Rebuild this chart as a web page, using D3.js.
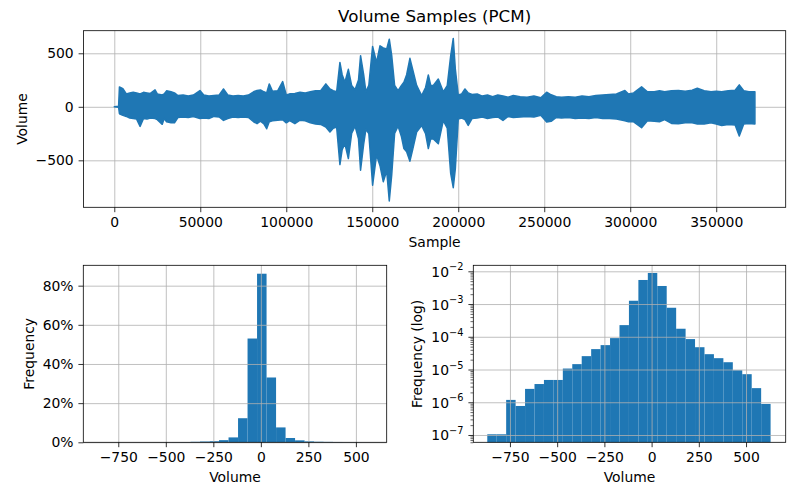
<!DOCTYPE html>
<html>
<head>
<meta charset="utf-8">
<script src="https://cdn.jsdelivr.net/npm/d3@7"></script>
<style>
  body { margin: 0; background: #fff; }
  svg text { font-family: "DejaVu Sans", sans-serif; fill: #000; }
</style>
</head>
<body>
<div id="chart"></div>
<script>
// waveform envelope: sample index (thousands), max and min volume per chunk
const sampleK = [0, 2.5, 3.0, 5, 7, 9, 11, 13, 15, 17, 19, 21, 23.7, 25, 27.9, 29, 30.4, 33, 35, 37, 40, 43, 46, 49.8, 52, 55, 58, 61,
  63.5, 66, 69, 72, 75, 78, 81, 83, 85, 87, 88.6, 90.1, 92, 95, 97.9, 100, 102, 105, 108, 111, 114, 117, 120, 123,
  125.4, 127.3, 129.3, 131.2, 132.5, 134.1, 136.1, 138, 140, 142, 143.2, 145, 146.3, 148, 150.2, 152.5, 154.5, 156.4, 158.4, 159.9, 161.3,
  163, 165, 167, 168.4, 170, 171.9, 173.5, 175.8, 178.7, 181, 182.6, 184, 185.5, 188.4, 191.3, 193.6, 195.6, 197.1, 198.3,
  200, 202, 203.9, 205.8, 208, 211, 214, 217, 220, 223, 226, 229, 232, 236, 240, 244, 248, 251.4,
  254, 257, 260, 264, 268, 272, 276, 280, 284, 288, 292, 296.9, 299, 302, 306.6, 310, 314, 317,
  320, 324, 328, 332, 336, 339, 343, 347, 350, 353.2, 357, 361, 363.4, 366, 369, 372.5];
const envMax = [0, 4, 186, 170, 120, 130, 135, 130, 120, 135, 130, 125, 158, 120, 110, 120, 149, 140, 130, 105, 110, 100, 110, 152, 110, 100, 105, 110,
  167, 110, 100, 105, 100, 110, 140, 152, 158, 140, 130, 214, 145, 150, 236, 110, 121, 125, 135, 130, 140, 150, 150, 214,
  167, 150, 140, 415, 300, 230, 350, 200, 160, 250, 477, 300, 140, 200, 564, 415, 570, 550, 540, 632, 480,
  200, 150, 200, 230, 300, 453, 350, 200, 105, 180, 298, 200, 200, 260, 140, 198, 477, 639, 353,
  110, 120, 167, 130, 115, 120, 100, 110, 95, 110, 100, 90, 105, 95, 90, 100, 85, 136,
  112, 95, 90, 95, 90, 100, 95, 105, 110, 115, 120, 152, 120, 130, 186, 140, 140, 150,
  140, 150, 152, 145, 155, 174, 150, 140, 145, 140, 150, 155, 205, 150, 140, 140];
const envMin = [0, -4, -65, -80, -90, -105, -110, -115, -183, -110, -115, -105, -110, -120, -164, -110, -140, -150, -149, -100, -95, -100, -90, -110, -105, -110, -90, -95,
  -127, -110, -95, -100, -95, -100, -140, -158, -135, -160, -205, -140, -130, -125, -120, -150, -130, -158, -125, -130, -150, -160, -165, -190,
  -236, -200, -190, -540, -400, -345, -484, -250, -180, -300, -592, -350, -210, -250, -732, -450, -550, -700, -600, -880, -639,
  -250, -180, -280, -390, -420, -508, -400, -236, -175, -250, -390, -300, -300, -345, -130, -200, -623, -756, -580,
  -115, -105, -120, -174, -110, -105, -95, -110, -100, -95, -127, -90, -100, -95, -90, -95, -80, -143,
  -136, -100, -105, -100, -110, -105, -110, -100, -110, -110, -115, -130, -140, -140, -195, -130, -135, -140,
  -120, -155, -158, -150, -150, -160, -160, -150, -160, -174, -165, -170, -273, -160, -155, -160];

// histogram bins (30 bins of width 50)
const binEdges = [-870, -820, -770, -720, -670, -620, -570, -520, -470, -420, -370, -320, -270, -220, -170, -120, -70, -20,
  30, 80, 130, 180, 230, 280, 330, 380, 430, 480, 530, 580, 630];
const freqPct = [0.001, 0.001, 0.011, 0.007, 0.024, 0.034, 0.046, 0.046, 0.10, 0.14, 0.25, 0.40, 0.53, 1.1, 2.5, 12.3,
  53.0, 86.1, 33.1, 7.6, 2.2, 1.0, 0.46, 0.28, 0.21, 0.16, 0.09, 0.07, 0.026, 0.009];
const freqLog = [1.05e-7, 1.05e-7, 1.18e-6, 7.7e-7, 2.56e-6, 3.6e-6, 4.8e-6, 4.8e-6, 1.07e-5, 1.46e-5, 2.56e-5, 4.2e-5, 5.56e-5, 9.1e-5,
  2.27e-4, 1.26e-3, 5.43e-3, 8.9e-3, 3.56e-3, 7.7e-4, 1.76e-4, 8.5e-5, 4.8e-5, 2.94e-5, 2.22e-5, 1.67e-5, 9.5e-6, 7.2e-6, 2.7e-6, 8.9e-7];

// tick values
const sampleTicks = [0, 50000, 100000, 150000, 200000, 250000, 300000, 350000];
const volTicksTop = [-500, 0, 500];
const volTicks = [-750, -500, -250, 0, 250, 500];
const pctTicks = [0, 20, 40, 60, 80];
const logExp = [-7, -6, -5, -4, -3, -2];

const blue = "#1f77b4", gridCol = "#b0b0b0", fs = 13.9;

const svg = d3.select("#chart").append("svg").attr("width", 800).attr("height", 500);

// panel boxes
const pTop = { left: 83.5, right: 785.7, top: 30.7, bottom: 207.3 };
const pL = { left: 83.3, right: 386.7, top: 265.3, bottom: 442.3 };
const pR = { left: 473.3, right: 785.7, top: 265.3, bottom: 442.3 };

function styleAxis(g, w) {
  g.attr("font-family", null).attr("font-size", null);
  g.select(".domain").remove();
  g.selectAll(".tick line").attr("stroke", "#000").attr("stroke-width", w || 0.8);
  g.selectAll(".tick text").attr("font-size", fs);
}
function grid(p, x, y, xt, yt) {
  const g = svg.append("g");
  g.append("g").attr("transform", `translate(0,${p.bottom})`)
    .call(d3.axisBottom(x).tickValues(xt).tickSize(-(p.bottom - p.top)).tickFormat(""))
    .call(s => { s.select(".domain").remove(); s.selectAll("line").attr("stroke", gridCol).attr("stroke-width", 0.8); });
  g.append("g").attr("transform", `translate(${p.left},0)`)
    .call(d3.axisLeft(y).tickValues(yt).tickSize(-(p.right - p.left)).tickFormat(""))
    .call(s => { s.select(".domain").remove(); s.selectAll("line").attr("stroke", gridCol).attr("stroke-width", 0.8); });
}
function frame(p) {
  svg.append("rect").attr("x", p.left).attr("y", p.top).attr("width", p.right - p.left).attr("height", p.bottom - p.top)
    .attr("fill", "none").attr("stroke", "#000").attr("stroke-width", 0.8);
}
function label(text, x, y, rot, size) {
  svg.append("text").attr("transform", `translate(${x},${y})` + (rot ? " rotate(-90)" : ""))
    .attr("text-anchor", "middle").attr("font-size", size || fs).text(text);
}

// ---------- top: waveform ----------
const xS = d3.scaleLinear().domain([-17900, 390400]).range([pTop.left, pTop.right]);
const yV = d3.scaleLinear().domain([-939, 711]).range([pTop.bottom, pTop.top]);

const area = d3.area()
  .x(i => xS(sampleK[i] * 1000))
  .y0(i => yV(envMin[i]))
  .y1(i => yV(envMax[i]));
svg.append("path").datum(d3.range(sampleK.length)).attr("d", area)
  .attr("fill", blue).attr("stroke", blue).attr("stroke-width", 1.5).attr("stroke-linejoin", "round");

// grid drawn under line but we want line above: redraw order
const topGrid = svg.insert("g", "path");
topGrid.append("g").attr("transform", `translate(0,${pTop.bottom})`)
  .call(d3.axisBottom(xS).tickValues(sampleTicks).tickSize(-(pTop.bottom - pTop.top)).tickFormat(""))
  .call(s => { s.select(".domain").remove(); s.selectAll("line").attr("stroke", gridCol).attr("stroke-width", 0.8); });
topGrid.append("g").attr("transform", `translate(${pTop.left},0)`)
  .call(d3.axisLeft(yV).tickValues(volTicksTop).tickSize(-(pTop.right - pTop.left)).tickFormat(""))
  .call(s => { s.select(".domain").remove(); s.selectAll("line").attr("stroke", gridCol).attr("stroke-width", 0.8); });

svg.append("g").attr("transform", `translate(0,${pTop.bottom})`)
  .call(d3.axisBottom(xS).tickValues(sampleTicks).tickSize(4.9).tickPadding(4.9).tickFormat(d3.format("d")))
  .call(styleAxis);
svg.append("g").attr("transform", `translate(${pTop.left},0)`)
  .call(d3.axisLeft(yV).tickValues(volTicksTop).tickSize(4.9).tickPadding(4.9).tickFormat(d3.format("d")))
  .call(styleAxis);
frame(pTop);
label("Volume Samples (PCM)", (pTop.left + pTop.right) / 2, 22.4, false, 16.7);
label("Sample", (pTop.left + pTop.right) / 2, 247);
label("Volume", 27, (pTop.top + pTop.bottom) / 2, true);

// ---------- bottom left: linear histogram ----------
const xL = d3.scaleLinear().domain([-934, 662]).range([pL.left, pL.right]);
const yL = d3.scaleLinear().domain([0, 90.4]).range([pL.bottom, pL.top]);

svg.append("g").selectAll("rect").data(freqPct).join("rect")
  .attr("x", (d, i) => xL(binEdges[i]))
  .attr("width", (d, i) => xL(binEdges[i + 1]) - xL(binEdges[i]))
  .attr("y", d => yL(d))
  .attr("height", d => yL(0) - yL(d))
  .attr("fill", blue);
grid(pL, xL, yL, volTicks, pctTicks);
svg.append("g").attr("transform", `translate(0,${pL.bottom})`)
  .call(d3.axisBottom(xL).tickValues(volTicks).tickSize(4.9).tickPadding(4.9).tickFormat(d3.format("d")))
  .call(styleAxis);
svg.append("g").attr("transform", `translate(${pL.left},0)`)
  .call(d3.axisLeft(yL).tickValues(pctTicks).tickSize(4.9).tickPadding(4.9).tickFormat(d => d + "%"))
  .call(styleAxis);
frame(pL);
label("Volume", (pL.left + pL.right) / 2, 482);
label("Frequency", 33.5, (pL.top + pL.bottom) / 2, true);

// ---------- bottom right: log histogram ----------
const xR = d3.scaleLinear().domain([-944, 710]).range([pR.left, pR.right]);
const yR = d3.scaleLog().domain([5.98e-8, 0.01525]).range([pR.bottom, pR.top]);

svg.append("g").selectAll("rect").data(freqLog).join("rect")
  .attr("x", (d, i) => xR(binEdges[i]))
  .attr("width", (d, i) => xR(binEdges[i + 1]) - xR(binEdges[i]))
  .attr("y", d => yR(d))
  .attr("height", d => pR.bottom - yR(d))
  .attr("fill", blue);
const logTicks = logExp.map(e => Math.pow(10, e));
grid(pR, xR, yR, volTicks, logTicks);
svg.append("g").attr("transform", `translate(0,${pR.bottom})`)
  .call(d3.axisBottom(xR).tickValues(volTicks).tickSize(4.9).tickPadding(4.9).tickFormat(d3.format("d")))
  .call(styleAxis);

// minor log ticks
const minor = [];
for (let e = -8; e <= -2; e++) for (let m = 2; m <= 9; m++) {
  const v = m * Math.pow(10, e);
  if (v >= yR.domain()[0] && v <= yR.domain()[1]) minor.push(v);
}
svg.append("g").attr("transform", `translate(${pR.left},0)`)
  .call(d3.axisLeft(yR).tickValues(minor).tickSize(2.8).tickFormat(""))
  .call(g => styleAxis(g, 0.6));
const yAx = svg.append("g").attr("transform", `translate(${pR.left},0)`)
  .call(d3.axisLeft(yR).tickValues(logTicks).tickSize(4.9).tickPadding(4.9).tickFormat(""))
  .call(styleAxis);
yAx.selectAll(".tick").each(function (d, i) {
  const t = d3.select(this).select("text").attr("dy", null).attr("y", 5);
  t.append("tspan").text("10");
  t.append("tspan").attr("dy", -6.5).attr("font-size", 9.8).text("\u2212" + (-logExp[i]));
});
frame(pR);
label("Volume", (pR.left + pR.right) / 2, 482);
label("Frequency (log)", 422, (pR.top + pR.bottom) / 2, true);
</script>
</body>
</html>
